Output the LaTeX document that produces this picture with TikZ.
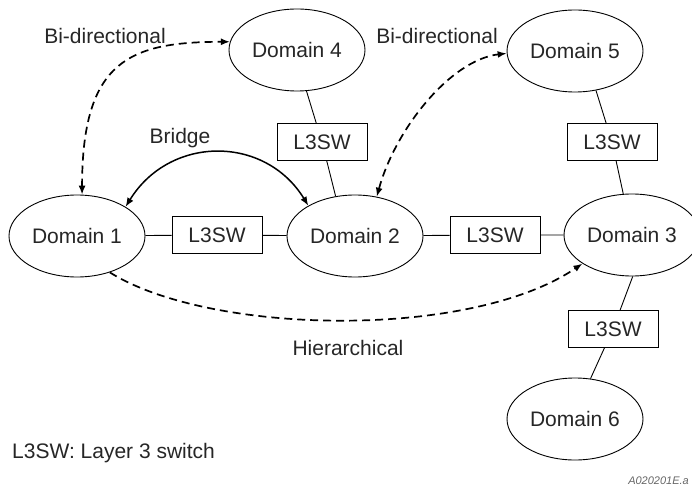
\documentclass[tikz,border=0pt]{standalone}
\usepackage{fontspec}
\setmainfont{Liberation Sans}
\usetikzlibrary{shapes.geometric,arrows.meta,backgrounds}

\begin{document}
\begin{tikzpicture}[x=1pt,y=1pt,
  every node/.style={font=\fontsize{21}{25}\selectfont, text=black!85},
  domnode/.style={ellipse, draw, line width=0.9pt, fill=white, inner sep=0pt,
                 minimum width=136, minimum height=82},
  swbox/.style={rectangle, draw, line width=0.9pt, fill=white, inner sep=0pt,
                 minimum width=90, minimum height=37},
  linkline/.style={line width=0.9pt},
  onetip/.style={-{Latex[length=9pt,width=7pt]}},
  twotips/.style={{Latex[length=9pt,width=7pt]}-{Latex[length=9pt,width=7pt]}},
  relline/.style={line width=1.7pt, dash pattern=on 8pt off 5pt},
  bridgeline/.style={line width=1.5pt},
  lbl/.style={inner sep=0pt}
]
\useasboundingbox (0,0) rectangle (692,-486);

% domains
\node[domnode] (d1) at (77,-236) {Domain 1};
\node[domnode] (d2) at (355,-236) {Domain 2};
\node[domnode] (d3) at (632,-235) {Domain 3};
\node[domnode] (d4) at (297,-50) {Domain 4};
\node[domnode] (d5) at (575,-51) {Domain 5};
\node[domnode] (d6) at (575,-419) {Domain 6};

% layer 3 switches
\node[swbox] (s12) at (217,-235) {L3SW};
\node[swbox] (s23) at (495,-235) {L3SW};
\node[swbox] (s42) at (322,-142) {L3SW};
\node[swbox] (s53) at (612,-142) {L3SW};
\node[swbox] (s36) at (613,-329) {L3SW};

% physical links, kept behind the boxes
\begin{scope}[on background layer]
  \draw[linkline] (d1) -- (s12) -- (d2) -- (s23) -- (d3);
  \draw[linkline] (d4.-77) -- (s42.center) -- (d2.116);
  \draw[linkline] (d5.-62) -- (s53.center) -- (d3.102);
  \draw[linkline] (d3.-89) -- (s36.center) -- (d6.69);
\end{scope}

% logical relations
\draw[relline, twotips] (d1.83) .. controls (82,-60) and (130,-42) .. (d4.173);
\draw[relline, twotips] (d2.61) .. controls (395,-130) and (450,-60) .. (d5.182);
\draw[bridgeline, twotips] (d1.31) .. controls (170,-135) and (265,-135) .. (d2.147);
\draw[relline, onetip] (d1.-48) .. controls (210,-335) and (470,-340) .. (d3.210);

% labels
\node[lbl] (lb1) at (105,-36) {Bi-directional};
\node[lbl] (lb2) at (437,-36) {Bi-directional};
\node[lbl] (lbr) at (180,-138) {Bridge};
\node[lbl] (lhi) at (348,-348) {Hierarchical};
\node[lbl, anchor=west] (legend) at (12,-453) {L3SW: Layer 3 switch};
\node[lbl, anchor=east, font=\fontsize{11}{12}\selectfont\itshape, text=black!60]
  (fig) at (689,-481) {A020201E.a};
\end{tikzpicture}
\end{document}
